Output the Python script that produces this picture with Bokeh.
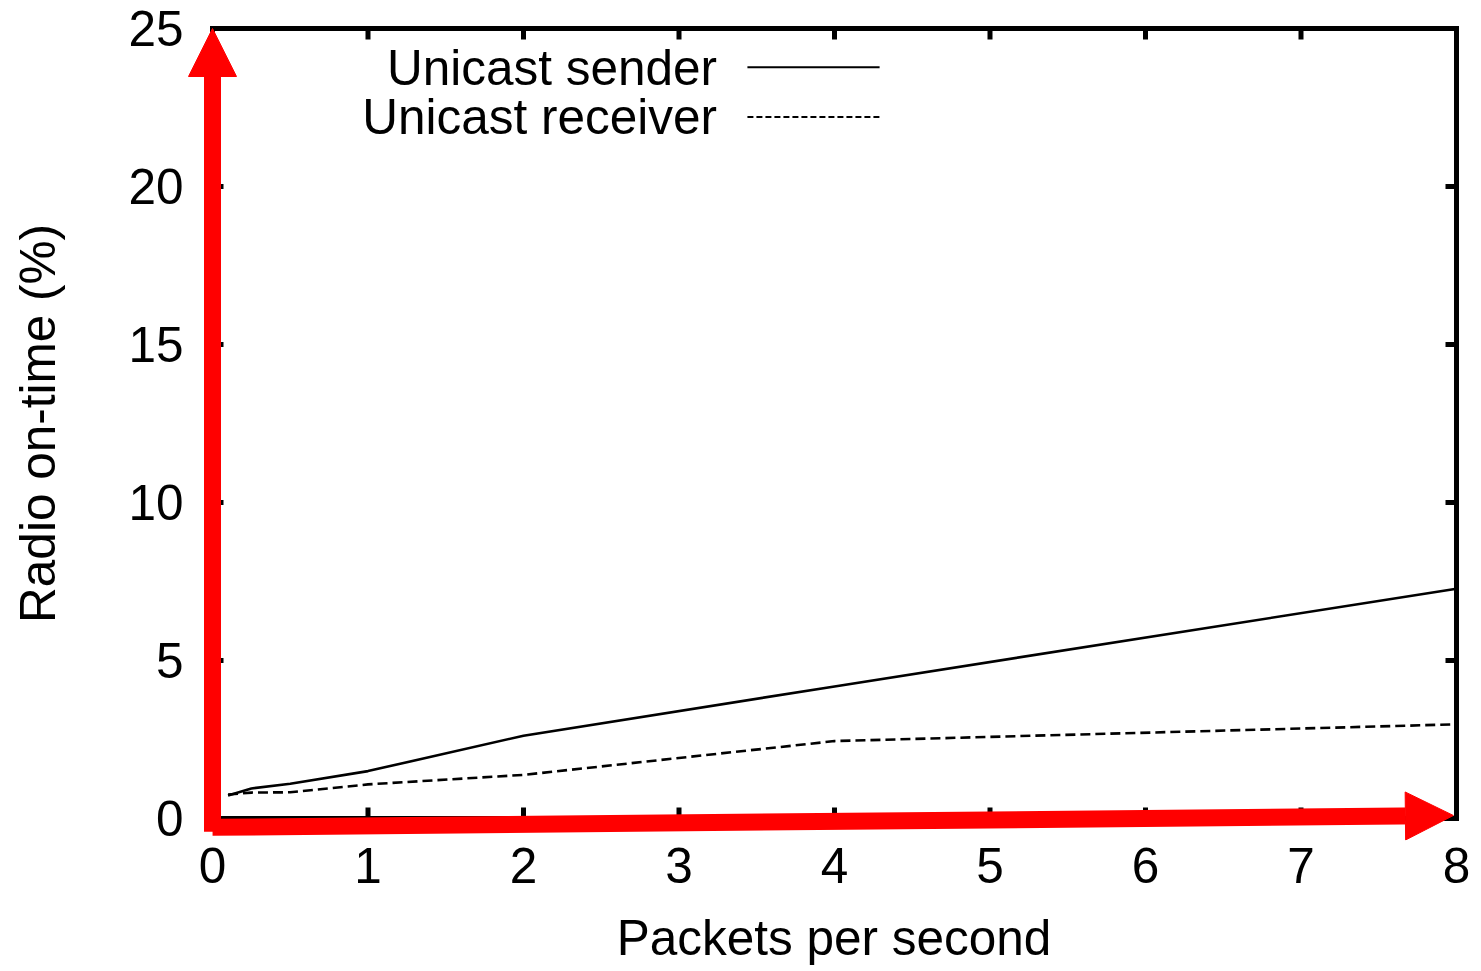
from bokeh.plotting import figure
from bokeh.models import Range1d, FixedTicker, Arrow, Label, NormalHead
from bokeh.embed import file_html
from bokeh.resources import INLINE

# ---- data ----
pps = [0.1, 0.25, 0.5, 1, 2, 4, 8]
sender = [0.73, 0.95, 1.1, 1.5, 2.62, 4.18, 7.27]
receiver = [0.76, 0.82, 0.83, 1.08, 1.38, 2.45, 2.98]
x_ticks = [0, 1, 2, 3, 4, 5, 6, 7, 8]
y_ticks = [0, 5, 10, 15, 20, 25]
series_names = ["Unicast sender", "Unicast receiver"]

FONT = "Liberation Sans"
FS = "49.5px"

W, H = 1481, 971
XMAX, YMAX = 8, 25
# gnuplot box in pixels; the Bokeh frame is extended around it so that the
# red annotation arrows can overhang the box without being clipped, and so
# that the axis titles stay centred on the box
BOX_L, BOX_R, BOX_T, BOX_B = 212, 1456, 28, 818
FR_L, FR_R, FR_T, FR_B = 186, 1481, 6, 840
SX = (BOX_R - BOX_L) / XMAX
SY = (BOX_B - BOX_T) / YMAX
TICK = 11

p = figure(width=W, height=H, output_backend="svg", toolbar_location=None,
           x_range=Range1d(-(BOX_L - FR_L) / SX, XMAX + (FR_R - BOX_R) / SX),
           y_range=Range1d(-(FR_B - BOX_B) / SY, YMAX + (BOX_T - FR_T) / SY),
           min_border_left=FR_L, min_border_right=W - FR_R,
           min_border_top=FR_T, min_border_bottom=H - FR_B,
           x_axis_label="Packets per second",
           y_axis_label="Radio on-time (%)")
p.background_fill_color = "white"
p.border_fill_color = "white"
p.outline_line_color = None
p.xgrid.grid_line_color = None
p.ygrid.grid_line_color = None

# labelled axes (bottom / left): text only, the box and ticks drawn below
for ax, ticks in [(p.xaxis[0], x_ticks), (p.yaxis[0], y_ticks)]:
    ax.ticker = FixedTicker(ticks=ticks)
    ax.major_tick_line_color = None
    ax.minor_tick_line_color = None
    ax.axis_line_color = None
    ax.major_tick_out = 0
    ax.major_tick_in = 0
    ax.major_label_text_font = FONT
    ax.major_label_text_font_size = FS
    ax.major_label_text_color = "black"
    ax.axis_label_text_font = FONT
    ax.axis_label_text_font_size = FS
    ax.axis_label_text_font_style = "normal"
    ax.axis_label_text_color = "black"
p.xaxis[0].major_label_standoff = 7
p.xaxis[0].axis_label_standoff = 24
p.yaxis[0].major_label_standoff = 3
p.yaxis[0].axis_label_standoff = 60

# gnuplot box with inward ticks on all four sides
p.quad(left=0, right=XMAX, bottom=0, top=YMAX, fill_color=None,
       line_color="black", line_width=5, line_join="miter")
nx, ny = len(x_ticks), len(y_ticks)
tick_style = dict(line_color="black", line_width=5)
p.segment(x0=x_ticks, y0=[0] * nx, x1=x_ticks, y1=[TICK / SY] * nx,
          **tick_style)
p.segment(x0=x_ticks, y0=[YMAX] * nx, x1=x_ticks,
          y1=[YMAX - TICK / SY] * nx, **tick_style)
p.segment(x0=[0] * ny, y0=y_ticks, x1=[TICK / SX] * ny, y1=y_ticks,
          **tick_style)
p.segment(x0=[XMAX] * ny, y0=y_ticks, x1=[XMAX - TICK / SX] * ny,
          y1=y_ticks, **tick_style)

# ---- series ----
p.line(pps, sender, line_color="black", line_width=2.6)
p.line(pps, receiver, line_color="black", line_width=2.6, line_dash="10 5")

# ---- gnuplot-style legend (text then sample on the right) ----
leg_y = [23.77, 22.2]
dashes = ["solid", "6 3"]
for name, ly, dash in zip(series_names, leg_y, dashes):
    p.add_layout(Label(x=3.245, y=ly, text=name, text_align="right",
                       text_baseline="middle", text_font=FONT,
                       text_font_size=FS, text_color="black"))
    p.add_layout(Arrow(x_start=3.44, y_start=ly, x_end=4.29, y_end=ly,
                       end=None, line_color="black", line_width=2,
                       line_dash=dash))

# ---- red annotation arrows ----
for (x0, y0, x1, y1) in [(0, -0.42, 0, 25), (0.0, -0.28, 7.98, 0.095)]:
    p.add_layout(Arrow(x_start=x0, y_start=y0, x_end=x1, y_end=y1,
                       line_color="red", line_width=17, level="overlay",
                       end=NormalHead(size=48, fill_color="red",
                                      line_color="red", line_width=1)))

open("out.html", "w").write(file_html(p, INLINE))
